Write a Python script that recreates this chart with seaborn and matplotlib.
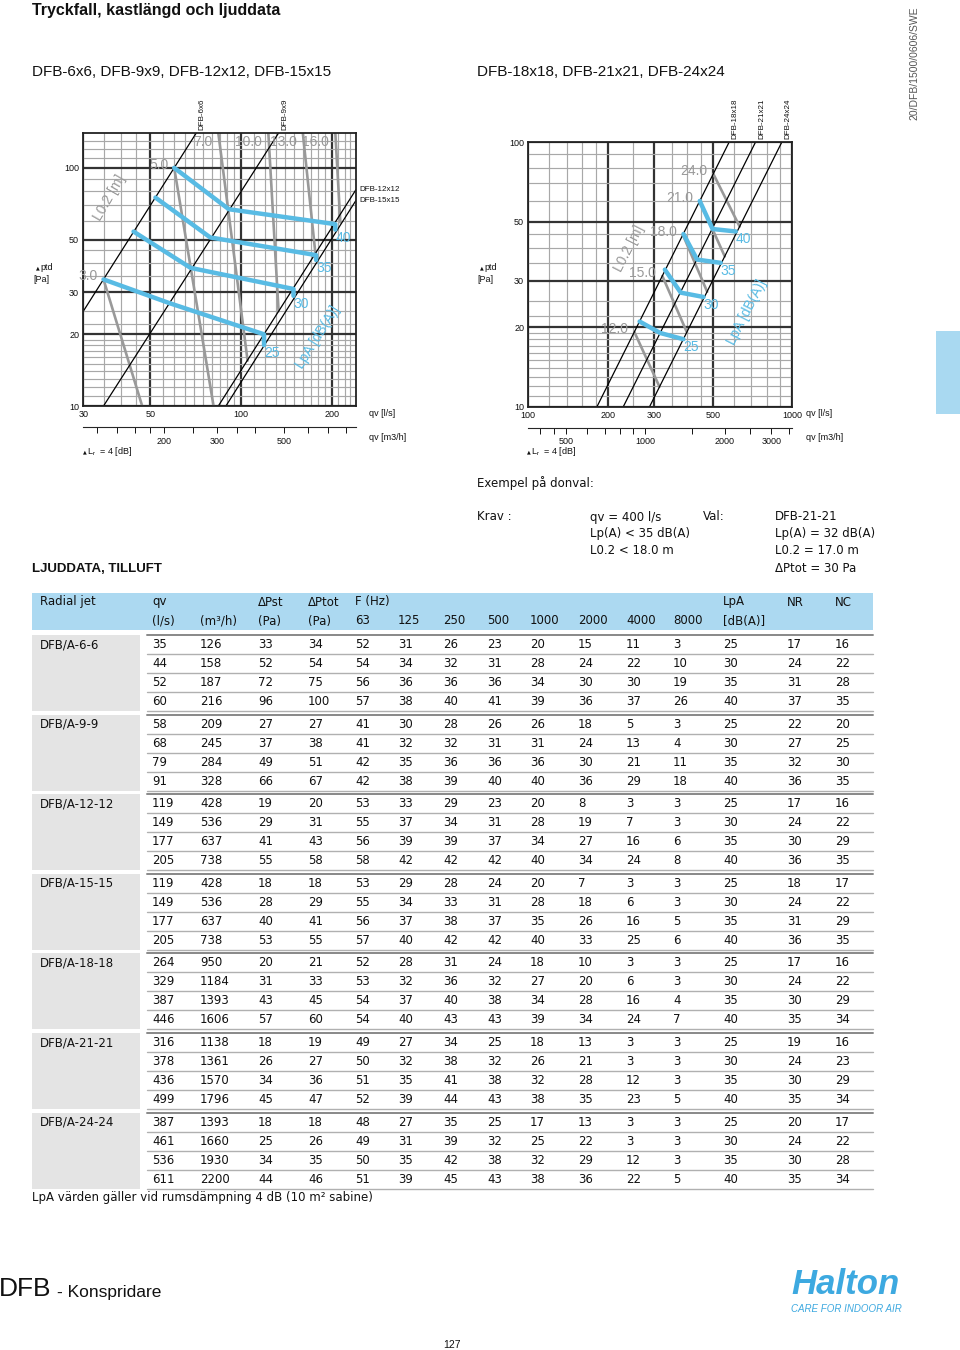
import numpy as np
import pandas as pd
import matplotlib
matplotlib.use("Agg")
import matplotlib.pyplot as plt
from matplotlib.ticker import NullFormatter
from matplotlib.patches import Rectangle
import seaborn as sns

sns.set_style("white")
plt.rcParams["font.family"] = ["Liberation Sans", "DejaVu Sans"]
plt.rcParams["text.color"] = "#111111"
plt.rcParams["xtick.color"] = "#111111"
plt.rcParams["ytick.color"] = "#111111"

BLUE = "#58bbe4"
GRAY = "#999999"
TAB = "DejaVu Sans"

# ── chart data: left nomogram (DFB-6x6 .. DFB-15x15) ─────────────────────────
left_sizes = ["DFB-6x6", "DFB-9x9", "DFB-12x12", "DFB-15x15"]
left_size_qv = [[30, 71], [35, 133], [84, 240], [89, 240]]
left_size_pt = [[25, 140], [10, 140], [10, 81], [10, 73]]

left_lpa = [25, 30, 35, 40]
left_lpa_qv = [[35, 58, 119, 119], [44, 68, 149, 149], [52, 79, 177, 177], [60, 91, 205, 205]]
left_lpa_pt = [[34, 27, 20, 18], [54, 38, 31, 29], [75, 51, 43, 41], [100, 67, 58, 55]]

left_throw = ["3.0", "5.0", "7.0", "10.0", "13.0", "16.0"]
left_throw_qv = [[35, 47], [60, 81], [84, 105], [123, 133], [160, 176], [205, 213]]
left_throw_pt = [[34, 10], [100, 10], [140, 15.5], [140, 25], [140, 44], [140, 59]]

# ── chart data: right nomogram (DFB-18x18 .. DFB-24x24) ──────────────────────
right_sizes = ["DFB-18x18", "DFB-21x21", "DFB-24x24"]
right_size_qv = [[182, 576], [229, 725], [288, 912]]
right_size_pt = [[10, 100], [10, 100], [10, 100]]

right_lpa = [25, 30, 35, 40]
right_lpa_qv = [[264, 316, 387], [329, 378, 461], [387, 436, 536], [446, 499, 611]]
right_lpa_pt = [[21, 19, 18], [33, 27, 26], [45, 36, 35], [60, 47, 46]]

right_throw = ["12.0", "15.0", "18.0", "21.0", "24.0"]
right_throw_qv = [[252, 314], [322, 399], [385, 476], [446, 555], [502, 632]]
right_throw_pt = [[19.2, 11.9], [31.2, 19.1], [44.7, 27.2], [60, 37], [76, 48]]

# ── table data ───────────────────────────────────────────────────────────────
header_1 = ["Radial jet", "qv", "", "\u0394Pst", "\u0394Ptot", "F (Hz)", "", "", "", "", "", "", "", "LpA", "NR", "NC"]
header_2 = ["", "(l/s)", "(m\u00b3/h)", "(Pa)", "(Pa)", "63", "125", "250", "500", "1000", "2000", "4000", "8000", "[dB(A)]", "", ""]

group_names = ["DFB/A-6-6", "DFB/A-9-9", "DFB/A-12-12", "DFB/A-15-15",
               "DFB/A-18-18", "DFB/A-21-21", "DFB/A-24-24"]
tab_6 = [[35, 126, 33, 34, 52, 31, 26, 23, 20, 15, 11, 3, 25, 17, 16],
         [44, 158, 52, 54, 54, 34, 32, 31, 28, 24, 22, 10, 30, 24, 22],
         [52, 187, 72, 75, 56, 36, 36, 36, 34, 30, 30, 19, 35, 31, 28],
         [60, 216, 96, 100, 57, 38, 40, 41, 39, 36, 37, 26, 40, 37, 35]]
tab_9 = [[58, 209, 27, 27, 41, 30, 28, 26, 26, 18, 5, 3, 25, 22, 20],
         [68, 245, 37, 38, 41, 32, 32, 31, 31, 24, 13, 4, 30, 27, 25],
         [79, 284, 49, 51, 42, 35, 36, 36, 36, 30, 21, 11, 35, 32, 30],
         [91, 328, 66, 67, 42, 38, 39, 40, 40, 36, 29, 18, 40, 36, 35]]
tab_12 = [[119, 428, 19, 20, 53, 33, 29, 23, 20, 8, 3, 3, 25, 17, 16],
          [149, 536, 29, 31, 55, 37, 34, 31, 28, 19, 7, 3, 30, 24, 22],
          [177, 637, 41, 43, 56, 39, 39, 37, 34, 27, 16, 6, 35, 30, 29],
          [205, 738, 55, 58, 58, 42, 42, 42, 40, 34, 24, 8, 40, 36, 35]]
tab_15 = [[119, 428, 18, 18, 53, 29, 28, 24, 20, 7, 3, 3, 25, 18, 17],
          [149, 536, 28, 29, 55, 34, 33, 31, 28, 18, 6, 3, 30, 24, 22],
          [177, 637, 40, 41, 56, 37, 38, 37, 35, 26, 16, 5, 35, 31, 29],
          [205, 738, 53, 55, 57, 40, 42, 42, 40, 33, 25, 6, 40, 36, 35]]
tab_18 = [[264, 950, 20, 21, 52, 28, 31, 24, 18, 10, 3, 3, 25, 17, 16],
          [329, 1184, 31, 33, 53, 32, 36, 32, 27, 20, 6, 3, 30, 24, 22],
          [387, 1393, 43, 45, 54, 37, 40, 38, 34, 28, 16, 4, 35, 30, 29],
          [446, 1606, 57, 60, 54, 40, 43, 43, 39, 34, 24, 7, 40, 35, 34]]
tab_21 = [[316, 1138, 18, 19, 49, 27, 34, 25, 18, 13, 3, 3, 25, 19, 16],
          [378, 1361, 26, 27, 50, 32, 38, 32, 26, 21, 3, 3, 30, 24, 23],
          [436, 1570, 34, 36, 51, 35, 41, 38, 32, 28, 12, 3, 35, 30, 29],
          [499, 1796, 45, 47, 52, 39, 44, 43, 38, 35, 23, 5, 40, 35, 34]]
tab_24 = [[387, 1393, 18, 18, 48, 27, 35, 25, 17, 13, 3, 3, 25, 20, 17],
          [461, 1660, 25, 26, 49, 31, 39, 32, 25, 22, 3, 3, 30, 24, 22],
          [536, 1930, 34, 35, 50, 35, 42, 38, 32, 29, 12, 3, 35, 30, 28],
          [611, 2200, 44, 46, 51, 39, 45, 43, 38, 36, 22, 5, 40, 35, 34]]
groups = [tab_6, tab_9, tab_12, tab_15, tab_18, tab_21, tab_24]


def long_df(names, xs, ys):
    rows = []
    for n, xv, yv in zip(names, xs, ys):
        for a, b in zip(xv, yv):
            rows.append({"name": str(n), "qv": a, "pt": b})
    return pd.DataFrame(rows)


def draw_chart(ax, xlim, ylim, xmaj, xmin, ymaj, ymin,
               sizes, size_qv, size_pt, lpa, lpa_qv, lpa_pt, throw, throw_qv, throw_pt):
    ax.set_xscale("log")
    ax.set_yscale("log")
    ax.set_xlim(xlim)
    ax.set_ylim(ylim)
    ax.set_xticks(xmaj, labels=[str(v) for v in xmaj])
    ax.set_yticks(ymaj, labels=[str(v) for v in ymaj])
    ax.set_xticks(xmin, minor=True)
    ax.set_yticks(ymin, minor=True)
    ax.xaxis.set_minor_formatter(NullFormatter())
    ax.yaxis.set_minor_formatter(NullFormatter())
    ax.grid(which="minor", color="#a8a8a8", lw=0.85)
    ax.grid(which="major", color="#333333", lw=1.6)
    ax.set_axisbelow(True)
    ax.tick_params(which="both", length=0, labelsize=6.5, pad=3)
    for s in ax.spines.values():
        s.set_color("#222222")
        s.set_linewidth(1.3)

    sns.lineplot(data=long_df(throw, throw_qv, throw_pt), x="qv", y="pt", units="name",
                 estimator=None, sort=False, color=GRAY, lw=1.9, ax=ax)
    sns.lineplot(data=long_df(sizes, size_qv, size_pt), x="qv", y="pt", units="name",
                 estimator=None, sort=False, color="black", lw=0.9, ax=ax)
    sns.lineplot(data=long_df(lpa, lpa_qv, lpa_pt), x="qv", y="pt", units="name",
                 estimator=None, sort=False, color=BLUE, lw=3.2, ax=ax,
                 solid_joinstyle="round")
    ax.set_xlabel("")
    ax.set_ylabel("")

    for lab, q, p in zip(throw, throw_qv, throw_pt):
        off = (-6, -9) if p[0] >= ylim[1] else (-6, 3)
        ax.annotate(lab, (q[0], p[0]), xytext=off, textcoords="offset pixels",
                    ha="right", va="center", color=GRAY, fontsize=10, annotation_clip=False)
    for lab, q, p in zip(sizes, size_qv, size_pt):
        if p[-1] >= ylim[1]:
            ax.annotate(lab, (q[-1], p[-1]), xytext=(6, 3), textcoords="offset pixels",
                        rotation=90, ha="center", va="bottom", fontsize=5.8,
                        annotation_clip=False)
        else:
            ax.annotate(lab, (q[-1], p[-1]), xytext=(3, 0), textcoords="offset pixels",
                        ha="left", va="center", fontsize=5.8, annotation_clip=False)
    for lab, q, p in zip(lpa, lpa_qv, lpa_pt):
        ax.annotate(str(lab), (q[-1], p[-1]), xytext=(0, -8), textcoords="offset pixels",
                    ha="left", va="center", color=BLUE, fontsize=10, annotation_clip=False)


def m3h_axis(ax, loc, major, minor):
    sec = ax.secondary_xaxis(loc, functions=(lambda q: q * 3.6, lambda m: m / 3.6))
    sec.set_xticks(major, labels=[str(v) for v in major])
    sec.set_xticks(minor, minor=True)
    sec.xaxis.set_minor_formatter(NullFormatter())
    sec.tick_params(which="both", length=4, width=0.7, direction="out", labelsize=6.5, pad=3)
    for s in sec.spines.values():
        s.set_linewidth(0.8)


fig = plt.figure(figsize=(9.6, 13.5), dpi=100)

# left chart
axl = fig.add_axes([83.3 / 960, 1 - 406 / 1350, (356 - 83.3) / 960, (406 - 133) / 1350])
draw_chart(axl, (30, 240), (10, 140),
           [30, 50, 100, 200],
           [35, 40, 45, 55, 60, 65, 70, 75, 80, 85, 90, 95, 110, 120, 130, 140, 150, 160,
            170, 180, 190, 210, 220, 230],
           [10, 20, 30, 50, 100],
           [11, 12, 13, 14, 15, 16, 17, 18, 19, 22, 25, 35, 40, 45, 60, 70, 80, 90, 110, 120, 130],
           left_sizes, left_size_qv, left_size_pt, left_lpa, left_lpa_qv, left_lpa_pt,
           left_throw, left_throw_qv, left_throw_pt)
m3h_axis(axl, -0.077, [200, 300, 500], [120, 140, 160, 180, 250, 350, 400, 600, 700, 800])

# right chart
axr = fig.add_axes([528.3 / 960, 1 - 406.7 / 1350, (792.3 - 528.3) / 960, (406.7 - 142.3) / 1350])
draw_chart(axr, (100, 1000), (10, 100),
           [100, 200, 300, 500, 1000],
           [120, 140, 160, 180, 250, 350, 400, 450, 600, 700, 800, 900],
           [10, 20, 30, 50, 100],
           [11, 12, 13, 14, 15, 16, 17, 18, 19, 22, 25, 35, 40, 45, 60, 70, 80, 90],
           right_sizes, right_size_qv, right_size_pt, right_lpa, right_lpa_qv, right_lpa_pt,
           right_throw, right_throw_qv, right_throw_pt)
m3h_axis(axr, -0.079, [500, 1000, 2000, 3000], [400, 450, 600, 700, 800, 900, 1500, 2500, 3500])

# page overlay in pixel coordinates
page = fig.add_axes([0, 0, 1, 1], zorder=10)
page.set_facecolor("none")
page.set_xlim(0, 960)
page.set_ylim(1350, 0)
page.axis("off")

page.text(32, 10, "Tryckfall, kastlängd och ljuddata", fontsize=11.5, fontweight="bold",
          va="center")
page.text(32, 72, "DFB-6x6, DFB-9x9, DFB-12x12, DFB-15x15", fontsize=11, va="center")
page.text(477, 72, "DFB-18x18, DFB-21x21, DFB-24x24", fontsize=11, va="center")
page.text(914, 63, "20/DFB/1500/0606/SWE", rotation=90, fontsize=7.5, color="#555555",
          ha="center", va="center")
page.add_patch(Rectangle((936, 331), 24, 83, color="#a9d9f1", lw=0))

# chart annotations
for x0 in (33, 477):
    page.text(x0 + 3, 268, "\u25b2", fontsize=3.5, family="DejaVu Sans", va="center")
    page.text(x0 + 7, 268, "ptd", fontsize=6.5, va="center")
    page.text(x0, 279, "[Pa]", fontsize=6.5, va="center")
for x0 in (83, 527):
    page.text(x0, 452, "\u25b2", fontsize=3.5, family="DejaVu Sans", va="center")
    page.text(x0 + 4, 452, r"L$_\mathregular{r}$  = 4 [dB]", fontsize=6.5, va="center")
page.text(369, 413, "qv [l/s]", fontsize=6.5, va="center")
page.text(369, 437, "qv [m3/h]", fontsize=6.5, va="center")
page.text(806, 414, "qv [l/s]", fontsize=6.5, va="center")
page.text(806, 437, "qv [m3/h]", fontsize=6.5, va="center")
page.text(110, 198, "L0.2 [m]", rotation=60, fontsize=10, color=GRAY, ha="center",
          va="center", rotation_mode="anchor")
page.text(318, 337, "LpA [dB(A)]", rotation=58, fontsize=10, color=BLUE, ha="center",
          va="center", rotation_mode="anchor")
page.text(629, 248, "L0.2 [m]", rotation=63, fontsize=10, color=GRAY, ha="center",
          va="center", rotation_mode="anchor")
page.text(747, 312, "LpA [dB(A)]", rotation=63, fontsize=10, color=BLUE, ha="center",
          va="center", rotation_mode="anchor")

# example block
page.text(477, 483, "Exempel på donval:", fontsize=8.5, family=TAB, va="center")
page.text(477, 517, "Krav :", fontsize=8.5, family=TAB, va="center")
page.text(703, 517, "Val:", fontsize=8.5, family=TAB, va="center")
for i, s in enumerate(["qv = 400 l/s", "Lp(A) < 35 dB(A)", "L0.2 < 18.0 m"]):
    page.text(590, 517 + 17 * i, s, fontsize=8.5, family=TAB, va="center")
for i, s in enumerate(["DFB-21-21", "Lp(A) = 32 dB(A)", "L0.2 = 17.0 m", "\u0394Ptot = 30 Pa"]):
    page.text(775, 517 + 17 * i, s, fontsize=8.5, family=TAB, va="center")
page.text(32, 569, "LJUDDATA, TILLUFT", fontsize=9.5, fontweight="bold", va="center")

# table
col_x = [40, 152, 200, 258, 308, 355, 398, 443, 487, 530, 578, 626, 673, 723, 787, 835]
page.add_patch(Rectangle((32, 593), 841, 37, color="#acd9f1", lw=0))
for x, h1, h2 in zip(col_x, header_1, header_2):
    page.text(x, 602, h1, fontsize=8.5, family=TAB, va="center")
    page.text(x, 621, h2, fontsize=8.5, family=TAB, va="center")

for g, (name, rows) in enumerate(zip(group_names, groups)):
    top = 635 + g * 79.6
    page.add_patch(Rectangle((32, top), 108, 76, color="#e4e4e4", lw=0))
    page.text(col_x[0], top + 9.5, name, fontsize=8.5, family=TAB, va="center")
    page.plot([147, 873], [top, top], color="#888888", lw=1.4)
    for r, vals in enumerate(rows):
        y = top + 9.5 + r * 19
        for x, v in zip(col_x[1:], vals):
            page.text(x, y, str(v), fontsize=8.5, family=TAB, va="center")
        page.plot([147, 873], [top + 19 * (r + 1)] * 2, color="#b0b0b0", lw=1.0)

page.text(32, 1197, "LpA värden gäller vid rumsdämpning 4 dB (10 m\u00b2 sabine)", fontsize=8.5,
          family=TAB, va="center")

# footer
page.text(-1, 1289, "DFB", fontsize=19, va="center")
page.text(57, 1292, "- Konspridare", fontsize=12.5, va="center")
page.text(846, 1284, "Halton", fontsize=25, fontweight="bold", style="italic",
          color="#3da9e0", ha="center", va="center")
page.text(846, 1309, "CARE FOR INDOOR AIR", fontsize=7, style="italic", color="#3da9e0",
          ha="center", va="center")
page.text(452, 1345, "127", fontsize=7.5, ha="center", va="center")

fig.savefig("out.png", dpi=100)
